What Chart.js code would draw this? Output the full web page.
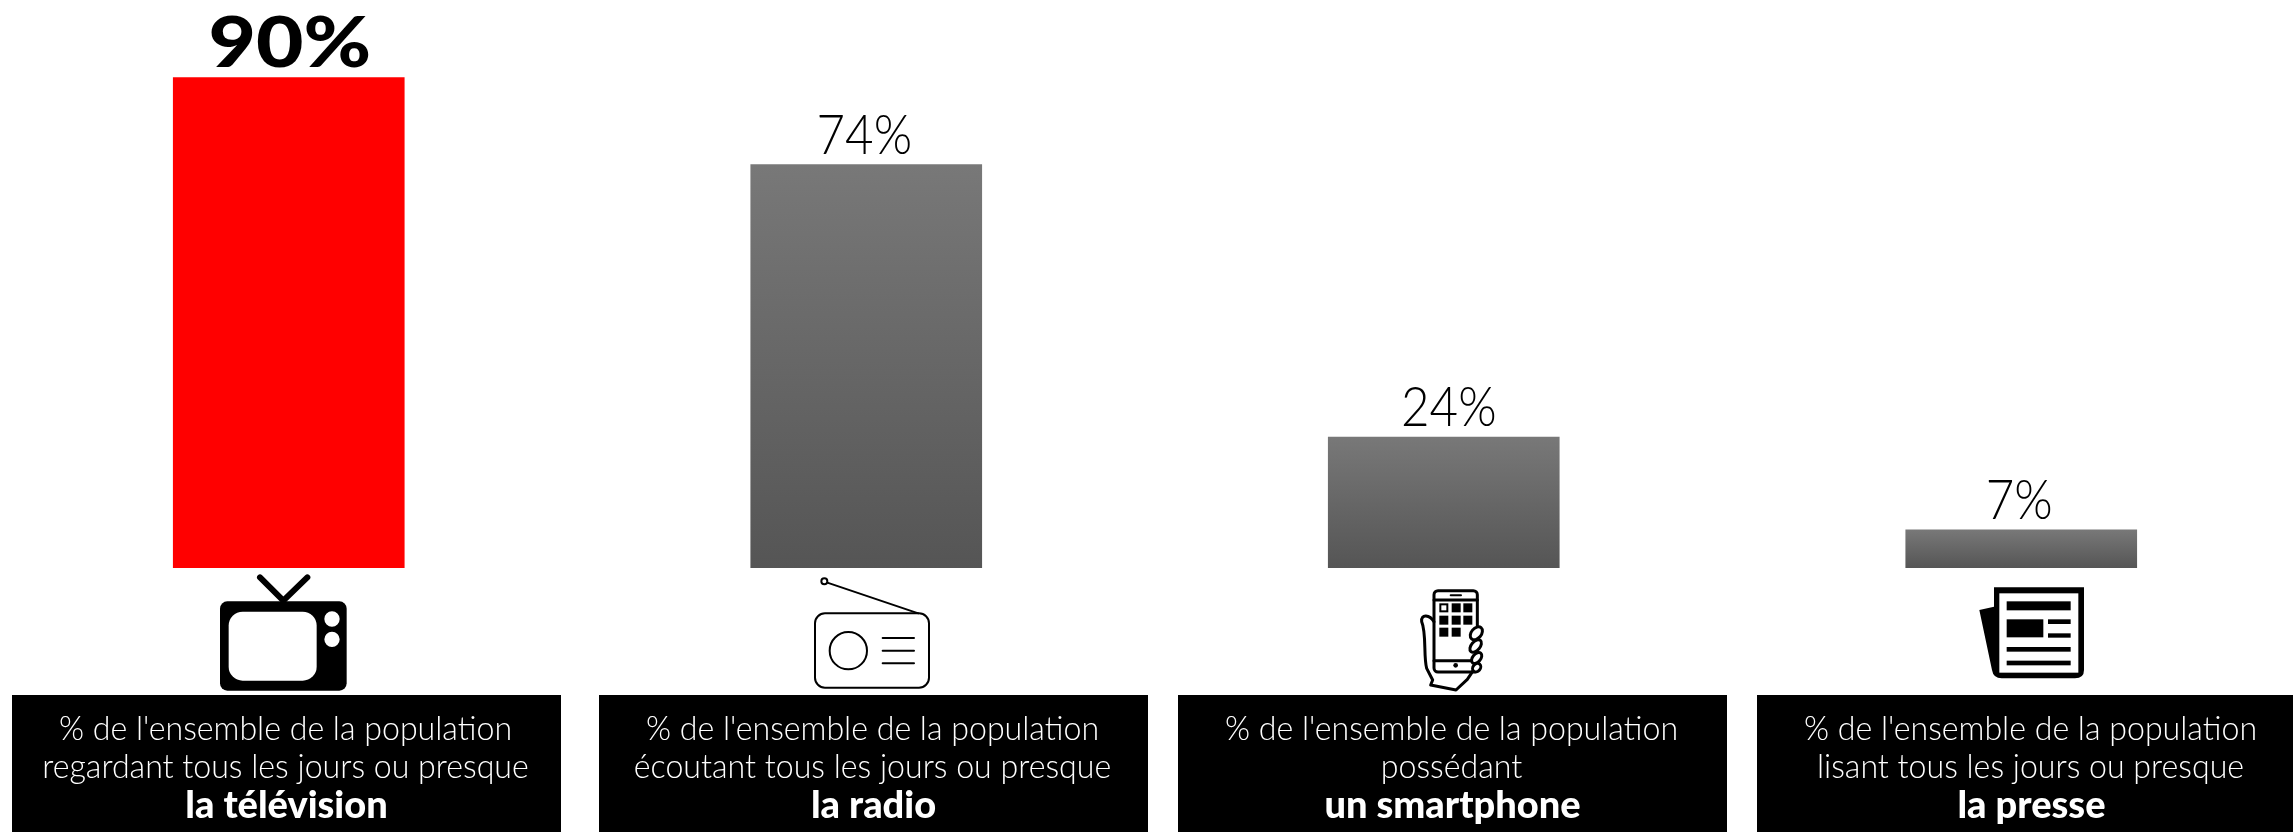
<!DOCTYPE html>
<html>
<head>
<meta charset="utf-8">
<style>
  html, body { margin: 0; padding: 0; background: #fff; overflow: hidden; width: 2293px; height: 832px; }
  canvas { display: block; }
</style>
<script src="https://cdn.jsdelivr.net/npm/chart.js@4"></script>
</head>
<body>
<canvas id="chart" width="2310" height="832"></canvas>
<script>
const categories = ['la télévision', 'la radio', 'un smartphone', 'la presse'];
const values = [90, 74, 24, 7];
const valueLabels = ['90%', '74%', '24%', '7%'];
const introLine = "% de l'ensemble de la population";
const verbLines = ['regardant tous les jours ou presque', 'écoutant tous les jours ou presque', 'possédant', 'lisant tous les jours ou presque'];

const boxLeft = [12, 599, 1178, 1757];
const boxWidth = 549;
const fontName = 'Lato';

// the reference font is narrower than Lato, so squeeze the text sideways
function squeezedText(ctx, text, x, y, sx) {
  ctx.save();
  ctx.translate(x, y);
  ctx.scale(sx, 1);
  ctx.fillText(text, 0, 0);
  ctx.restore();
}

// icons are written in crop coordinates, 3 units to a pixel
function inIcon(ctx, x, y, draw) {
  ctx.save();
  ctx.translate(x, y);
  ctx.scale(1 / 3, 1 / 3);
  ctx.fillStyle = '#000';
  ctx.strokeStyle = '#000';
  ctx.lineCap = 'round';
  ctx.lineJoin = 'round';
  draw();
  ctx.restore();
}

function roundBox(ctx, x, y, w, h, r) {
  ctx.beginPath();
  ctx.roundRect(x, y, w, h, r);
}

function drawTv(ctx) {
  inIcon(ctx, 190, 560, () => {
    ctx.lineWidth = 18;
    ctx.beginPath();
    ctx.moveTo(210, 52);
    ctx.lineTo(280, 122);
    ctx.lineTo(352, 52);
    ctx.stroke();
    roundBox(ctx, 90, 124, 380, 268, 22);
    ctx.fill();
    ctx.fillStyle = '#fff';
    roundBox(ctx, 116, 155, 264, 207, 42);
    ctx.fill();
    ctx.beginPath();
    ctx.arc(426, 177, 23, 0, Math.PI * 2);
    ctx.arc(426, 238, 23, 0, Math.PI * 2);
    ctx.fill();
  });
}

function drawRadio(ctx) {
  inIcon(ctx, 790, 560, () => {
    ctx.lineWidth = 6;
    roundBox(ctx, 75, 160, 342, 223, 30);
    ctx.stroke();
    ctx.beginPath();
    ctx.arc(175, 272, 56, 0, Math.PI * 2);
    ctx.stroke();
    ctx.beginPath();
    [234, 272, 310].forEach(y => {
      ctx.moveTo(278, y);
      ctx.lineTo(372, y);
    });
    ctx.moveTo(112, 68);
    ctx.lineTo(385, 160);
    ctx.stroke();
    ctx.beginPath();
    ctx.arc(103, 64, 9, 0, Math.PI * 2);
    ctx.stroke();
  });
}

function drawPhone(ctx) {
  inIcon(ctx, 1390, 570, () => {
    ctx.lineWidth = 9;
    roundBox(ctx, 132, 62, 130, 244, 12);
    ctx.stroke();
    ctx.beginPath();
    ctx.moveTo(132, 90);
    ctx.lineTo(262, 90);
    ctx.moveTo(132, 272);
    ctx.lineTo(250, 272);
    ctx.stroke();
    ctx.lineWidth = 6;
    ctx.beginPath();
    ctx.moveTo(182, 76);
    ctx.lineTo(213, 76);
    ctx.stroke();
    ctx.beginPath();
    ctx.arc(197, 286, 7, 0, Math.PI * 2);
    ctx.fill();
    [[148, 100], [185, 100], [220, 100], [148, 137], [185, 137], [220, 137], [148, 173], [185, 173]].forEach((p, i) => {
      ctx.fillRect(p[0], p[1], 27, 27);
      if (i === 0) {
        ctx.fillStyle = '#fff';
        ctx.fillRect(p[0] + 6, p[1] + 6, 15, 15);
        ctx.fillStyle = '#000';
      }
    });
    // hand
    ctx.lineWidth = 9;
    ctx.beginPath();
    ctx.moveTo(132, 155);
    ctx.bezierCurveTo(120, 135, 92, 130, 95, 155);
    ctx.bezierCurveTo(110, 190, 100, 260, 110, 295);
    ctx.lineTo(128, 330);
    ctx.lineTo(122, 345);
    ctx.lineTo(198, 360);
    ctx.lineTo(232, 328);
    ctx.lineTo(248, 304);
    ctx.stroke();
    [[259, 190, 15, 22], [257, 228, 13, 22], [260, 264, 12, 19], [260, 293, 11, 14]].forEach(f => {
      ctx.save();
      ctx.translate(f[0], f[1]);
      ctx.rotate(0.7);
      ctx.fillStyle = '#fff';
      ctx.beginPath();
      ctx.ellipse(0, 0, f[2], f[3], 0, 0, Math.PI * 2);
      ctx.fill();
      ctx.stroke();
      ctx.restore();
    });
  });
}

function drawPaper(ctx) {
  inIcon(ctx, 1960, 570, () => {
    ctx.beginPath();
    ctx.moveTo(58, 120);
    ctx.lineTo(102, 110);
    ctx.lineTo(102, 52);
    ctx.lineTo(372, 52);
    ctx.lineTo(372, 300);
    ctx.quadraticCurveTo(372, 325, 345, 325);
    ctx.lineTo(125, 325);
    ctx.quadraticCurveTo(100, 325, 96, 300);
    ctx.closePath();
    ctx.fill();
    ctx.fillStyle = '#fff';
    ctx.fillRect(118, 70, 237, 238);
    ctx.fillStyle = '#000';
    ctx.fillRect(140, 94, 192, 27);
    ctx.fillRect(140, 148, 110, 54);
    ctx.fillRect(264, 148, 68, 14);
    ctx.fillRect(264, 190, 68, 13);
    ctx.fillRect(140, 231, 192, 14);
    ctx.fillRect(140, 272, 192, 14);
  });
}

const paintOverlay = {
  id: 'paintOverlay',
  afterDatasetsDraw(chart) {
    const ctx = chart.ctx;
    const bars = chart.getDatasetMeta(0).data;
    ctx.save();
    ctx.textAlign = 'center';
    ctx.textBaseline = 'alphabetic';

    ctx.fillStyle = '#000';
    bars.forEach((bar, i) => {
      if (i === 0) {
        ctx.font = `900 70px ${fontName}`;
        squeezedText(ctx, valueLabels[i], bar.x + 1, bar.y - 11, 1.17);
      } else {
        ctx.font = `300 56px ${fontName}`;
        squeezedText(ctx, valueLabels[i], bar.x + (i === 2 ? 5 : -2), bar.y - 11, 0.88);
      }
    });

    drawTv(ctx);
    drawRadio(ctx);
    drawPhone(ctx);
    drawPaper(ctx);

    boxLeft.forEach((left, i) => {
      const mid = left + boxWidth / 2;
      ctx.fillStyle = '#000';
      ctx.fillRect(left, 695, boxWidth, 137);
      ctx.fillStyle = '#fff';
      ctx.font = `300 34px ${fontName}`;
      squeezedText(ctx, introLine, mid - 1, 740, 0.945);
      squeezedText(ctx, verbLines[i], mid - 1, 778, 0.945);
      ctx.font = `900 38px ${fontName}`;
      ctx.fillText(categories[i], mid, 818);
    });
    ctx.restore();
  }
};

new Chart(document.getElementById('chart').getContext('2d'), {
  type: 'bar',
  data: {
    labels: categories,
    datasets: [{
      data: values,
      barThickness: 231,
      borderWidth: 0,
      backgroundColor(context) {
        if (context.dataIndex === 0) return '#ff0000';
        const chart = context.chart;
        if (!chart.chartArea) return '#666666';
        const y = chart.scales.y;
        const grad = chart.ctx.createLinearGradient(0, y.getPixelForValue(context.raw), 0, y.getPixelForValue(0));
        grad.addColorStop(0, '#787878');
        grad.addColorStop(1, '#555555');
        return grad;
      }
    }]
  },
  options: {
    responsive: false,
    animation: { duration: 0 },
    layout: { padding: { top: 23, bottom: 264, left: 0, right: 0 } },
    scales: {
      x: { display: false },
      y: { display: false, min: 0, max: 100 }
    },
    plugins: {
      legend: { display: false },
      tooltip: { enabled: false }
    }
  },
  plugins: [paintOverlay]
});
</script>
</body>
</html>
